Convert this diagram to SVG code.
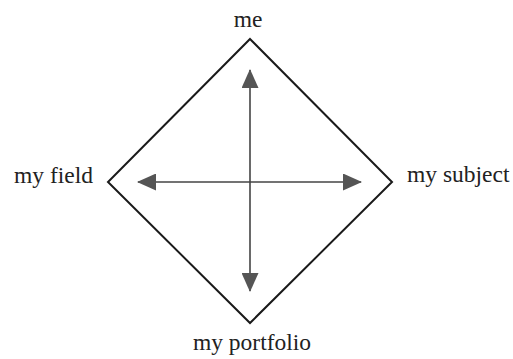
<svg xmlns="http://www.w3.org/2000/svg" width="513" height="359" viewBox="0 0 513 359">
<style>
  .lbl { font-family: "Liberation Serif", "Times New Roman", serif; font-size: 23.5px; fill: #222; }
  .shape { fill: none; stroke: #1a1a1a; stroke-width: 2; stroke-linejoin: miter; }
  .conn { stroke: #444; stroke-width: 1.6; fill: none; }
  .head { fill: #555; }
</style>
<defs>
  <marker id="arrow" viewBox="0 0 19 17" refX="18" refY="8.5" markerWidth="19" markerHeight="17" markerUnits="userSpaceOnUse" orient="auto-start-reverse">
    <path class="head" d="M0,0 L19,8.5 L0,17 z"/>
  </marker>
</defs>
<rect width="513" height="359" fill="#ffffff"/>
<g id="diamond">
  <polygon class="shape" points="250,39 392,182 250,323 108,182"/>
</g>
<g id="connectors">
  <line class="conn" x1="250" y1="70" x2="250" y2="291" marker-start="url(#arrow)" marker-end="url(#arrow)"/>
  <line class="conn" x1="138" y1="182" x2="361" y2="182" marker-start="url(#arrow)" marker-end="url(#arrow)"/>
</g>
<g id="node-me">
  <text class="lbl" x="248" y="27" text-anchor="middle">me</text>
</g>
<g id="node-field">
  <text class="lbl" x="14" y="183">my field</text>
</g>
<g id="node-subject">
  <text class="lbl" x="407" y="182">my subject</text>
</g>
<g id="node-portfolio">
  <text class="lbl" x="252" y="350" text-anchor="middle">my portfolio</text>
</g>
</svg>
